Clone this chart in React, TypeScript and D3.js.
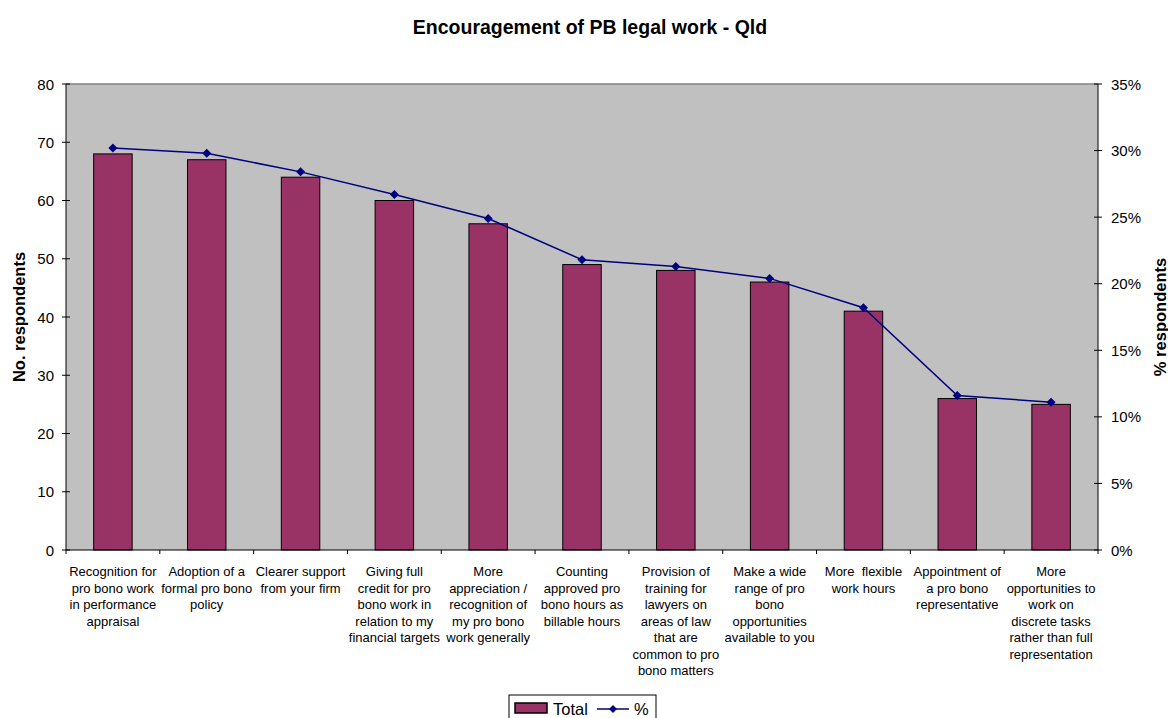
import React from "react";
import * as d3 from "d3";

const categories: string[][] = [
  ["Recognition for", "pro bono work", "in performance", "appraisal"],
  ["Adoption of a", "formal pro bono", "policy"],
  ["Clearer support", "from your firm"],
  ["Giving full", "credit for pro", "bono work in", "relation to my", "financial targets"],
  ["More", "appreciation /", "recognition of", "my pro bono", "work generally"],
  ["Counting", "approved pro", "bono hours as", "billable hours"],
  ["Provision of", "training for", "lawyers on", "areas of law", "that are", "common to pro", "bono matters"],
  ["Make a wide", "range of pro", "bono", "opportunities", "available to you"],
  ["More  flexible", "work hours"],
  ["Appointment of", "a pro bono", "representative"],
  ["More", "opportunities to", "work on", "discrete tasks", "rather than full", "representation"],
];
const totals: number[] = [68, 67, 64, 60, 56, 49, 48, 46, 41, 26, 25];
const percents: number[] = [30.2, 29.8, 28.4, 26.7, 24.9, 21.8, 21.3, 20.4, 18.2, 11.6, 11.1];
const leftTicks: number[] = [0, 10, 20, 30, 40, 50, 60, 70, 80];
const rightTicks: number[] = [0, 5, 10, 15, 20, 25, 30, 35];

const W = 1168, H = 718;
const L = 66, R = 1098, T = 84, B = 550;
const FONT = "'Liberation Sans', Arial, sans-serif";

export default function App() {
  const idx = categories.map((_, i) => String(i));
  const x = d3.scaleBand<string>().domain(idx).range([L, R]).padding(0);
  const yL = d3.scaleLinear().domain([0, 80]).range([B, T]);
  const yR = d3.scaleLinear().domain([0, 35]).range([B, T]);
  const bw = x.bandwidth() * 0.41;
  const cx = (i: number) => (x(String(i)) as number) + x.bandwidth() / 2;
  const line = d3.line<number>().x((_, i) => cx(i)).y((d) => yR(d));
  const diamond = (px: number, py: number, s = 4.5) =>
    `M${px},${py - s}L${px + s},${py}L${px},${py + s}L${px - s},${py}Z`;

  return (
    <svg width={W} height={H} style={{ position: "absolute", left: 0, top: 0, fontFamily: FONT }}>
      <rect x={0} y={0} width={W} height={H} fill="#fff" />
      <text x={590} y={34} textAnchor="middle" fontSize={19.5} fontWeight="bold">
        Encouragement of PB legal work - Qld
      </text>
      <rect x={L} y={T} width={R - L} height={B - T} fill="#C0C0C0" />
      <line x1={L} x2={R} y1={T} y2={T} stroke="#808080" strokeWidth={1.5} />
      {totals.map((v, i) => (
        <rect
          key={i}
          x={cx(i) - bw / 2}
          y={yL(v)}
          width={bw}
          height={B - yL(v)}
          fill="#993366"
          stroke="#000"
          strokeWidth={1}
        />
      ))}
      <path d={line(percents) || ""} fill="none" stroke="#000080" strokeWidth={1.5} />
      {percents.map((p, i) => (
        <path key={i} d={diamond(cx(i), yR(p))} fill="#000080" />
      ))}
      <line x1={L} x2={L} y1={T} y2={B} stroke="#000" />
      <line x1={R} x2={R} y1={T} y2={B} stroke="#000" />
      <line x1={L} x2={R} y1={B} y2={B} stroke="#000" />
      {leftTicks.map((t) => (
        <g key={t}>
          <line x1={L - 4} x2={L + 4} y1={yL(t)} y2={yL(t)} stroke="#000" />
          <text x={L - 12} y={yL(t) + 5.5} textAnchor="end" fontSize={15}>
            {t}
          </text>
        </g>
      ))}
      {rightTicks.map((t) => (
        <g key={t}>
          <line x1={R - 4} x2={R + 4} y1={yR(t)} y2={yR(t)} stroke="#000" />
          <text x={R + 13} y={yR(t) + 5.5} textAnchor="start" fontSize={15}>
            {t}%
          </text>
        </g>
      ))}
      {idx.map((d, i) => (
        <line key={i} x1={x(d) as number} x2={x(d) as number} y1={B} y2={B + 4} stroke="#000" />
      ))}
      <line x1={R} x2={R} y1={B} y2={B + 4} stroke="#000" />
      {categories.map((lines, i) => (
        <text key={i} textAnchor="middle" fontSize={13}>
          {lines.map((s, j) => (
            <tspan key={j} x={cx(i)} y={576 + j * 16.5} style={{ whiteSpace: "pre" }}>
              {s}
            </tspan>
          ))}
        </text>
      ))}
      <text
        transform={`translate(25,${(T + B) / 2}) rotate(-90)`}
        textAnchor="middle"
        fontSize={16.5}
        fontWeight="bold"
      >
        No. respondents
      </text>
      <text
        transform={`translate(1166,${(T + B) / 2}) rotate(-90)`}
        textAnchor="middle"
        fontSize={16.5}
        fontWeight="bold"
      >
        % respondents
      </text>
      <rect x={509} y={695} width={147} height={30} fill="#fff" stroke="#000" />
      <rect x={515} y={703} width={32} height={10} fill="#993366" stroke="#000" strokeWidth={1.5} />
      <text x={553} y={715} fontSize={16.5}>Total</text>
      <line x1={597} x2={629} y1={709} y2={709} stroke="#000080" strokeWidth={1.5} />
      <path d={diamond(613, 709, 4)} fill="#000080" />
      <text x={634} y={715} fontSize={16.5}>%</text>
    </svg>
  );
}
